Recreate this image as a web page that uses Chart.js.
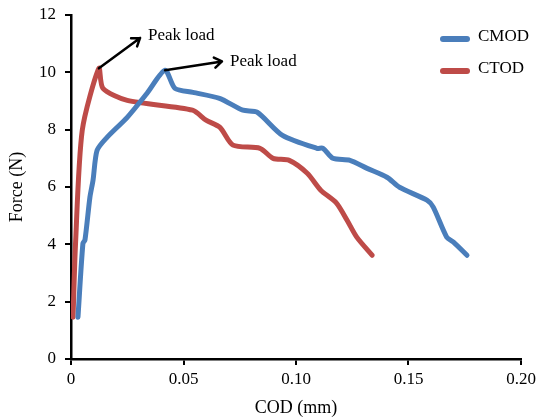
<!DOCTYPE html>
<html>
<head>
<meta charset="utf-8">
<script src="https://cdn.jsdelivr.net/npm/chart.js@4"></script>
<style>
  html, body { margin: 0; padding: 0; background: #fff; }
  #wrap { width: 539px; height: 419px; }
</style>
</head>
<body>
<div id="wrap"><canvas id="myChart"></canvas></div>
<script>
// data (COD in mm, force in N)
const cmodX = [0.0031, 0.0053, 0.0062, 0.0084, 0.0098, 0.0116, 0.016, 0.025, 0.0338, 0.0418, 0.0462, 0.0542, 0.066, 0.0764, 0.0827, 0.094, 0.1093, 0.112, 0.1164, 0.124, 0.1316, 0.1404, 0.146, 0.1582, 0.161, 0.167, 0.170, 0.176];
const cmodY = [1.46, 4.04, 4.15, 5.64, 6.24, 7.28, 7.73, 8.43, 9.27, 10.07, 9.44, 9.30, 9.09, 8.68, 8.61, 7.8, 7.35, 7.35, 7.0, 6.93, 6.65, 6.34, 5.99, 5.54, 5.3, 4.25, 4.08, 3.62];

const ctodX = [0.0009, 0.002, 0.005, 0.0124, 0.0142, 0.025, 0.054, 0.060, 0.0662, 0.072, 0.084, 0.0898, 0.097, 0.105, 0.111, 0.118, 0.1227, 0.127, 0.1338];
const ctodY = [1.46, 4.0, 7.98, 10.14, 9.44, 9.02, 8.68, 8.33, 8.08, 7.46, 7.35, 7.0, 6.93, 6.48, 5.89, 5.44, 4.84, 4.25, 3.62];

const seriesNames = ['CMOD', 'CTOD'];
const seriesColors = ['#4a7ebb', '#be4b48'];

const xTicks = [0, 0.05, 0.10, 0.15, 0.20];
const yTicks = [0, 2, 4, 6, 8, 10, 12];

// "Peak load" callouts: arrow from peak to tip, label next to tip
const peakFrom = [[0.0124, 10.14], [0.0418, 10.07]];
const peakTo = [[0.0307, 11.2], [0.0671, 10.38]];
const peakText = [[0.0342, 11.27], [0.0707, 10.38]];

const toPts = (xs, ys) => xs.map((x, i) => ({ x: x, y: ys[i] }));

const serif = '"Liberation Serif", "Times New Roman", serif';

const extras = {
  id: 'extras',
  afterDatasetsDraw(chart) {
    const ctx = chart.ctx;
    const xs = chart.scales.x, ys = chart.scales.y;
    ctx.save();
    ctx.strokeStyle = '#000';
    ctx.fillStyle = '#000';
    ctx.lineWidth = 2.5;
    ctx.lineCap = 'round';
    ctx.lineJoin = 'round';
    ctx.font = '17px ' + serif;
    ctx.textBaseline = 'middle';
    ctx.textAlign = 'left';
    for (let i = 0; i < peakFrom.length; i++) {
      const x0 = xs.getPixelForValue(peakFrom[i][0]), y0 = ys.getPixelForValue(peakFrom[i][1]);
      const x1 = xs.getPixelForValue(peakTo[i][0]), y1 = ys.getPixelForValue(peakTo[i][1]);
      const a = Math.atan2(y1 - y0, x1 - x0);
      ctx.beginPath();
      ctx.moveTo(x0, y0);
      ctx.lineTo(x1, y1);
      ctx.moveTo(x1 - 9 * Math.cos(a - 0.6), y1 - 9 * Math.sin(a - 0.6));
      ctx.lineTo(x1, y1);
      ctx.lineTo(x1 - 9 * Math.cos(a + 0.6), y1 - 9 * Math.sin(a + 0.6));
      ctx.stroke();
      ctx.fillText('Peak load', xs.getPixelForValue(peakText[i][0]), ys.getPixelForValue(peakText[i][1]));
    }
    // legend
    const lx = 440, ly = [39, 71];
    ctx.lineWidth = 6;
    for (let i = 0; i < seriesNames.length; i++) {
      ctx.strokeStyle = seriesColors[i];
      ctx.beginPath();
      ctx.moveTo(lx + 3, ly[i]);
      ctx.lineTo(lx + 27, ly[i]);
      ctx.stroke();
      ctx.fillText(seriesNames[i], lx + 38, ly[i] - 2);
    }
    ctx.restore();
  }
};

const config = {
  type: 'line',
  data: {
    datasets: [
      { label: seriesNames[0], data: toPts(cmodX, cmodY), borderColor: seriesColors[0] },
      { label: seriesNames[1], data: toPts(ctodX, ctodY), borderColor: seriesColors[1] }
    ]
  },
  options: {
    responsive: true,
    maintainAspectRatio: false,
    animation: false,
    layout: { padding: { left: 0, right: 18, top: 15, bottom: 0 } },
    elements: {
      line: { borderWidth: 5, tension: 0.25, fill: false, borderCapStyle: 'round', borderJoinStyle: 'round' },
      point: { radius: 0 }
    },
    plugins: { legend: { display: false }, tooltip: { enabled: false } },
    scales: {
      x: {
        type: 'linear',
        min: 0, max: 0.2,
        afterBuildTicks: s => { s.ticks = xTicks.map(v => ({ value: v })); },
        afterFit: s => { s.height = 60; s.paddingLeft = 0; s.paddingRight = 0; },
        ticks: {
          color: '#000', font: { family: serif, size: 17 }, padding: 4, maxRotation: 0,
          callback: v => v === 0 ? '0' : v.toFixed(2)
        },
        grid: { drawOnChartArea: false, drawTicks: true, tickLength: 6, color: '#000', lineWidth: 2 },
        border: { color: '#000', width: 2.5 },
        title: { display: true, text: 'COD (mm)', color: '#000', font: { family: serif, size: 18 }, padding: { top: 0, bottom: 0 } }
      },
      y: {
        min: 0, max: 12,
        afterBuildTicks: s => { s.ticks = yTicks.map(v => ({ value: v })); },
        afterFit: s => { s.width = 71; s.paddingTop = 0; s.paddingBottom = 0; },
        ticks: { color: '#000', font: { family: serif, size: 17 }, padding: 9 },
        grid: { drawOnChartArea: false, drawTicks: true, tickLength: 6, color: '#000', lineWidth: 2 },
        border: { color: '#000', width: 2.5 },
        title: { display: true, text: 'Force (N)', color: '#000', font: { family: serif, size: 18 }, padding: { top: 6, bottom: 0 } }
      }
    }
  },
  plugins: [extras]
};

new Chart(document.getElementById('myChart'), config);
</script>
</body>
</html>
